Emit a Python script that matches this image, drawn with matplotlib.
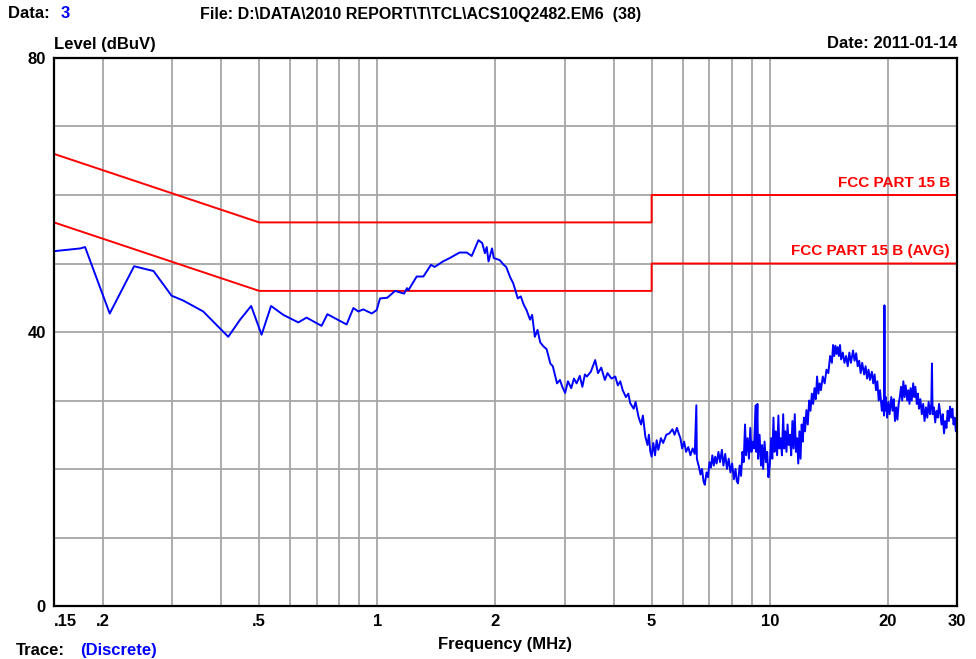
"""Conducted emission scan vs FCC Part 15 B limits -> out.png."""

import matplotlib

matplotlib.use("Agg")
import matplotlib.pyplot as plt

plt.rcParams["font.family"] = ["Liberation Sans", "DejaVu Sans"]
plt.rcParams["font.weight"] = "bold"

# limit lines (MHz, dBuV)
qp_freq = [0.15, 0.5, 0.5, 5.0, 5.0, 30.0]
qp_level = [66, 56, 56, 56, 60, 60]
avg_freq = [0.15, 0.5, 0.5, 5.0, 5.0, 30.0]
avg_level = [56, 46, 46, 46, 50, 50]

low_freq = [
    0.150, 0.175, 0.180, 0.208, 0.240, 0.269, 0.299, 0.320, 0.360, 0.417,
    0.447, 0.477, 0.507, 0.536, 0.576, 0.629, 0.660, 0.721, 0.746, 0.835,
    0.869, 0.894, 0.921, 0.968, 0.996, 1.016, 1.06, 1.11, 1.17, 1.19,
    1.20, 1.26, 1.31, 1.37, 1.40, 1.47, 1.53, 1.62, 1.69, 1.74,
    1.81, 1.85, 1.88, 1.90, 1.92, 1.96, 1.98,
]
low_level = [
    51.8, 52.2, 52.4, 42.7, 49.6, 48.9, 45.3, 44.6, 43.0, 39.3,
    41.8, 43.8, 39.6, 43.8, 42.5, 41.4, 42.1, 40.9, 42.6, 41.1,
    43.5, 43.0, 43.3, 42.7, 43.2, 44.9, 45.0, 46.0, 45.6, 46.4,
    46.1, 48.1, 48.1, 49.8, 49.5, 50.3, 50.8, 51.6, 51.6, 51.1,
    53.4, 53.0, 51.5, 52.4, 50.3, 52.2, 50.8,
]

mid_freq = [
    2.05, 2.10, 2.13, 2.18, 2.22, 2.25, 2.28, 2.32, 2.36, 2.40,
    2.45, 2.48, 2.52, 2.56, 2.60, 2.65, 2.70, 2.76, 2.80, 2.87,
    2.92, 2.96, 3.01, 3.06, 3.12, 3.17, 3.22, 3.28, 3.33, 3.38,
    3.42, 3.50, 3.59, 3.65, 3.72, 3.80, 3.86, 3.95, 4.04, 4.10,
    4.16, 4.22, 4.30, 4.36, 4.41, 4.50, 4.55, 4.63, 4.70, 4.75,
    4.82, 4.88, 4.92, 4.96,
]
mid_level = [
    50.5, 49.8, 49.5, 48.0, 47.1, 46.0, 44.9, 45.2, 44.0, 43.2,
    41.8, 42.5, 39.3, 40.3, 38.5, 37.9, 37.5, 35.4, 35.0, 32.5,
    33.0, 32.0, 31.1, 32.8, 31.8, 33.2, 32.5, 33.6, 32.0, 33.8,
    33.5, 34.2, 35.9, 34.0, 34.8, 33.0, 34.0, 33.2, 33.5, 32.2,
    32.8, 31.5, 30.5, 31.0, 29.6, 28.8, 29.8, 27.6, 26.5, 27.8,
    24.7, 23.5, 25.0, 22.6,
]

high_freq = [
    5.00, 5.05, 5.10, 5.15, 5.20, 5.28, 5.35, 5.45, 5.55, 5.65,
    5.72, 5.80, 5.86, 5.92, 5.98, 6.05, 6.12, 6.20, 6.28, 6.36,
    6.44, 6.50, 6.52, 6.60, 6.66, 6.72, 6.78, 6.83, 6.90, 6.96,
    7.02, 7.08, 7.14, 7.20, 7.26, 7.32, 7.40, 7.47, 7.55, 7.62,
    7.70, 7.78, 7.86, 7.94, 8.02, 8.10, 8.18, 8.24, 8.30, 8.38,
    8.45, 8.52, 8.58, 8.65, 8.70, 8.78, 8.85, 8.92, 8.98, 9.05,
    9.12, 9.20, 9.24, 9.30, 9.34, 9.42, 9.50, 9.56, 9.62, 9.70,
    9.78, 9.85, 9.92, 10.0, 10.08, 10.15, 10.22, 10.28, 10.36, 10.44,
    10.52, 10.58, 10.66, 10.74, 10.82, 10.88, 10.95, 11.03, 11.10, 11.18,
    11.26, 11.34, 11.42, 11.50, 11.58, 11.66, 11.74, 11.82, 11.90, 11.98,
    12.06, 12.14, 12.22, 12.30, 12.40, 12.50, 12.60, 12.70, 12.80, 12.90,
    13.0, 13.1, 13.2, 13.3, 13.4, 13.5, 13.65, 13.8, 13.95, 14.1,
    14.25, 14.4, 14.5, 14.6, 14.7, 14.8, 14.9, 15.0, 15.1, 15.2,
    15.35, 15.5, 15.65, 15.8, 15.95, 16.1, 16.3, 16.45, 16.6, 16.75,
    16.9, 17.05, 17.2, 17.4, 17.55, 17.7, 17.85, 18.0, 18.2, 18.35,
    18.5, 18.65, 18.8, 18.95, 19.1, 19.3, 19.45, 19.55, 19.6, 19.65,
    19.75, 19.9, 20.05, 20.2, 20.4, 20.55, 20.7, 20.85, 21.0, 21.15,
    21.3, 21.45, 21.6, 21.75, 21.9, 22.05, 22.2, 22.4, 22.55, 22.7,
    22.85, 23.0, 23.2, 23.35, 23.5, 23.7, 23.85, 24.0, 24.2, 24.4,
    24.6, 24.8, 25.0, 25.2, 25.4, 25.6, 25.8, 25.9, 26.0, 26.2,
    26.4, 26.6, 26.8, 27.0, 27.2, 27.4, 27.6, 27.8, 28.0, 28.2,
    28.4, 28.6, 28.8, 29.0, 29.2, 29.4, 29.6, 29.8, 30.0,
]
high_level = [
    21.8, 23.8, 22.0, 24.2, 22.8, 24.5, 23.8, 25.0, 25.2, 25.8,
    25.0, 26.0, 25.2, 24.5, 23.0, 24.0, 22.5, 23.2, 22.0, 23.0,
    22.2, 29.3, 21.5, 20.3, 19.2, 20.0, 18.2, 17.7, 19.5, 18.8,
    21.0, 20.2, 22.0, 20.5, 21.8, 20.8, 22.5, 21.0, 22.8, 20.5,
    22.2, 20.0, 21.5, 19.5, 20.8, 18.5, 20.0, 18.2, 17.9, 20.5,
    19.0, 22.5, 21.0, 26.5, 22.0, 24.5, 21.5, 26.0, 22.5, 24.0,
    23.0, 29.3, 22.5, 29.5, 21.5, 25.0, 20.5, 23.5, 20.0, 24.0,
    21.0, 22.5, 18.8, 20.5, 24.5, 21.5, 27.5, 22.5, 25.5, 22.0,
    27.8, 23.0, 24.5, 22.0, 28.0, 23.0, 25.5, 22.5, 26.5, 23.5,
    25.0, 22.0, 27.0, 23.0, 28.0, 22.5, 24.5, 20.8, 25.5, 21.5,
    26.5, 24.0, 27.5, 25.5, 28.6, 26.5, 30.0, 28.5, 31.0, 29.5,
    31.8, 30.2, 33.5, 31.0, 32.5, 31.5, 33.5, 32.5, 34.5, 34.0,
    36.5, 35.5, 38.1, 36.5, 38.0, 36.8, 37.8, 36.5, 38.1, 36.0,
    37.0, 35.5, 36.5, 35.0, 37.0, 35.5, 37.3, 35.8, 36.9, 35.0,
    35.8, 34.0, 35.5, 33.8, 35.0, 33.2, 34.5, 33.0, 34.2, 32.5,
    33.8, 31.5, 32.8, 30.0, 31.5, 28.5, 30.0, 27.8, 43.9, 28.5,
    30.5, 27.5, 29.8, 28.0, 30.5, 28.5, 30.2, 27.0, 29.0, 27.2,
    29.5, 30.5, 32.0, 30.0, 32.8, 30.5, 32.2, 30.0, 31.5, 29.5,
    31.8, 30.0, 32.5, 30.5, 32.0, 29.5, 31.0, 28.8, 30.2, 28.0,
    29.5, 27.0, 29.0, 27.5, 29.8, 28.0, 29.5, 35.4, 28.0, 29.0,
    26.8, 28.5, 27.5, 29.5, 28.0, 26.5, 28.0, 25.2, 27.0, 26.0,
    28.5, 27.0, 29.1, 27.5, 28.8, 26.5, 27.5, 25.5, 26.0,
]

grid_freqs = [0.2, 0.3, 0.4, 0.5, 0.6, 0.7, 0.8, 0.9, 1, 2, 3, 4, 5,
              6, 7, 8, 9, 10, 20]
x_ticks = [0.15, 0.2, 0.5, 1, 2, 5, 10, 20, 30]
x_tick_labels = [".15", ".2", ".5", "1", "2", "5", "10", "20", "30"]
y_ticks = [0, 40, 80]
y_tick_labels = ["0", "40", "80"]

RED = "#ff0000"
BLUE = "#0000ff"
GRID = "#a6a6a6"

trace_freq = low_freq + mid_freq + high_freq
trace_level = low_level + mid_level + high_level

fig = plt.figure(figsize=(9.76, 6.59), dpi=100)
ax = fig.add_axes([54 / 976, 1 - 606 / 659, 903 / 976, 548 / 659])
ax.set_xscale("log")
ax.set_xlim(0.15, 30)
ax.set_ylim(0, 80)

for f in grid_freqs:
    ax.axvline(f, color=GRID, lw=1.3, zorder=1)
for lvl in range(10, 80, 10):
    ax.axhline(lvl, color=GRID, lw=1.3, zorder=1)

ax.plot(qp_freq, qp_level, color=RED, lw=1.4, zorder=3)
ax.plot(avg_freq, avg_level, color=RED, lw=1.4, zorder=3)
ax.plot(trace_freq, trace_level, color=BLUE, lw=1.4, zorder=4)

ax.text(0.992, 60.8, "FCC PART 15 B", color=RED, fontsize=11,
        fontweight="bold", ha="right", va="bottom",
        transform=ax.get_yaxis_transform())
ax.text(0.992, 50.8, "FCC PART 15 B (AVG)", color=RED, fontsize=11,
        fontweight="bold", ha="right", va="bottom",
        transform=ax.get_yaxis_transform())

ax.set_xticks(x_ticks)
ax.set_xticklabels(x_tick_labels)
ax.xaxis.set_minor_locator(matplotlib.ticker.NullLocator())
ax.set_yticks(y_ticks)
ax.set_yticklabels(y_tick_labels)
ax.tick_params(length=0, labelsize=12, pad=6)
for lab in ax.get_xticklabels() + ax.get_yticklabels():
    lab.set_fontweight("bold")
ax.get_xticklabels()[0].set_horizontalalignment("left")

for sp in ax.spines.values():
    sp.set_linewidth(1.6)
    sp.set_color("black")
    sp.set_zorder(5)

fig.text(8 / 976, 1 - 14 / 659, "Data: ", fontsize=12, fontweight="bold",
         va="center")
fig.text(61 / 976, 1 - 14 / 659, "3", fontsize=12, fontweight="bold",
         color=BLUE, va="center")
fig.text(200 / 976, 1 - 14 / 659,
         "File: D:\\DATA\\2010 REPORT\\T\\TCL\\ACS10Q2482.EM6  (38)",
         fontsize=11.5, fontweight="bold", va="center")
fig.text(54 / 976, 1 - 44 / 659, "Level (dBuV)", fontsize=12,
         fontweight="bold", va="center")
fig.text(957 / 976, 1 - 44 / 659, "Date: 2011-01-14", fontsize=12,
         fontweight="bold", va="center", ha="right")
fig.text(505 / 976, 1 - 645 / 659, "Frequency (MHz)", fontsize=12,
         fontweight="bold", va="center", ha="center")
fig.text(16 / 976, 1 / 659, "Trace:", fontsize=12,
         fontweight="bold", va="bottom")
fig.text(80 / 976, 1 / 659, "(Discrete)", fontsize=12,
         fontweight="bold", va="bottom", color=BLUE)

fig.savefig("out.png", dpi=100)
plt.close(fig)
